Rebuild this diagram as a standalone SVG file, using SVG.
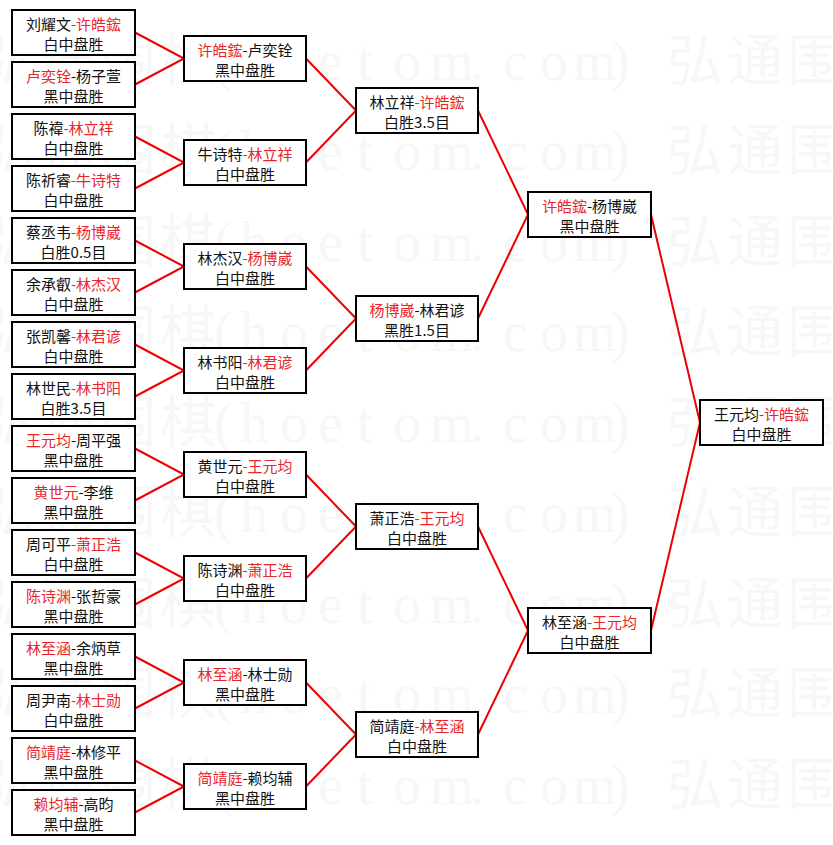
<svg xmlns="http://www.w3.org/2000/svg" width="833" height="845" viewBox="0 0 833 845">
<style>
.box{fill:#fff;stroke:#000;stroke-width:2}
.t{font-family:"Noto Sans CJK SC","Noto Sans",sans-serif;font-size:15px;fill:#111;text-anchor:middle}
.r{fill:#e8262b}
.c{stroke:#e00;stroke-width:2;fill:none}
.wm{font-family:"Liberation Serif","Noto Sans CJK SC",serif;font-size:56px;fill:#f7f7f7}
</style>
<defs>
<text id="wmrow" class="wm" x="-20 40 100 160 214 240 280 318 357 393 430 470 503 540 573 611 667 727 787" y="0">弘通围棋(hoetom.com)弘通围</text>
</defs>
<rect x="0" y="0" width="833" height="845" fill="#fff"/>
<g id="watermark">
<use href="#wmrow" y="80"/>
<use href="#wmrow" y="170"/>
<use href="#wmrow" y="261"/>
<use href="#wmrow" y="351"/>
<use href="#wmrow" y="442"/>
<use href="#wmrow" y="532"/>
<use href="#wmrow" y="623"/>
<use href="#wmrow" y="713"/>
<use href="#wmrow" y="804"/>
</g>
<g id="connectors">
<path class="c" d="M135 32.5L184 58.5L135 84.5"/>
<path class="c" d="M135 136.5L184 162.5L135 188.5"/>
<path class="c" d="M135 240.5L184 266.5L135 292.5"/>
<path class="c" d="M135 344.5L184 370.5L135 396.5"/>
<path class="c" d="M135 448.5L184 474.5L135 500.5"/>
<path class="c" d="M135 552.5L184 578.5L135 604.5"/>
<path class="c" d="M135 656.5L184 682.5L135 708.5"/>
<path class="c" d="M135 760.5L184 786.5L135 812.5"/>
<path class="c" d="M306 58.5L356 110.5L306 162.5"/>
<path class="c" d="M306 266.5L356 318.5L306 370.5"/>
<path class="c" d="M306 474.5L356 526.5L306 578.5"/>
<path class="c" d="M306 682.5L356 734.5L306 786.5"/>
<path class="c" d="M478 110.5L528 214.5L478 318.5"/>
<path class="c" d="M478 526.5L528 630.5L478 734.5"/>
<path class="c" d="M651 214.5L700 422.5L651 630.5"/>
</g>
<g id="r1-1"><rect class="box" x="12" y="10" width="123" height="45"/><text class="t" x="73.5" y="30">刘耀文<tspan class="r">-许皓鋐</tspan></text><text class="t" x="73.5" y="50">白中盘胜</text></g>
<g id="r1-2"><rect class="box" x="12" y="62" width="123" height="45"/><text class="t" x="73.5" y="82"><tspan class="r">卢奕铨</tspan>-杨子萱</text><text class="t" x="73.5" y="102">黑中盘胜</text></g>
<g id="r1-3"><rect class="box" x="12" y="114" width="123" height="45"/><text class="t" x="73.5" y="134">陈禕<tspan class="r">-林立祥</tspan></text><text class="t" x="73.5" y="154">白中盘胜</text></g>
<g id="r1-4"><rect class="box" x="12" y="166" width="123" height="45"/><text class="t" x="73.5" y="186">陈祈睿<tspan class="r">-牛诗特</tspan></text><text class="t" x="73.5" y="206">白中盘胜</text></g>
<g id="r1-5"><rect class="box" x="12" y="218" width="123" height="45"/><text class="t" x="73.5" y="238">蔡丞韦<tspan class="r">-杨博崴</tspan></text><text class="t" x="73.5" y="258">白胜0.5目</text></g>
<g id="r1-6"><rect class="box" x="12" y="270" width="123" height="45"/><text class="t" x="73.5" y="290">余承叡<tspan class="r">-林杰汉</tspan></text><text class="t" x="73.5" y="310">白中盘胜</text></g>
<g id="r1-7"><rect class="box" x="12" y="322" width="123" height="45"/><text class="t" x="73.5" y="342">张凯馨<tspan class="r">-林君谚</tspan></text><text class="t" x="73.5" y="362">白中盘胜</text></g>
<g id="r1-8"><rect class="box" x="12" y="374" width="123" height="45"/><text class="t" x="73.5" y="394">林世民<tspan class="r">-林书阳</tspan></text><text class="t" x="73.5" y="414">白胜3.5目</text></g>
<g id="r1-9"><rect class="box" x="12" y="426" width="123" height="45"/><text class="t" x="73.5" y="446"><tspan class="r">王元均</tspan>-周平强</text><text class="t" x="73.5" y="466">黑中盘胜</text></g>
<g id="r1-10"><rect class="box" x="12" y="478" width="123" height="45"/><text class="t" x="73.5" y="498"><tspan class="r">黄世元</tspan>-李维</text><text class="t" x="73.5" y="518">黑中盘胜</text></g>
<g id="r1-11"><rect class="box" x="12" y="530" width="123" height="45"/><text class="t" x="73.5" y="550">周可平<tspan class="r">-萧正浩</tspan></text><text class="t" x="73.5" y="570">白中盘胜</text></g>
<g id="r1-12"><rect class="box" x="12" y="582" width="123" height="45"/><text class="t" x="73.5" y="602"><tspan class="r">陈诗渊</tspan>-张哲豪</text><text class="t" x="73.5" y="622">黑中盘胜</text></g>
<g id="r1-13"><rect class="box" x="12" y="634" width="123" height="45"/><text class="t" x="73.5" y="654"><tspan class="r">林至涵</tspan>-余炳草</text><text class="t" x="73.5" y="674">黑中盘胜</text></g>
<g id="r1-14"><rect class="box" x="12" y="686" width="123" height="45"/><text class="t" x="73.5" y="706">周尹南<tspan class="r">-林士勋</tspan></text><text class="t" x="73.5" y="726">白中盘胜</text></g>
<g id="r1-15"><rect class="box" x="12" y="738" width="123" height="45"/><text class="t" x="73.5" y="758"><tspan class="r">简靖庭</tspan>-林修平</text><text class="t" x="73.5" y="778">黑中盘胜</text></g>
<g id="r1-16"><rect class="box" x="12" y="790" width="123" height="45"/><text class="t" x="73.5" y="810"><tspan class="r">赖均辅</tspan>-高昀</text><text class="t" x="73.5" y="830">黑中盘胜</text></g>
<g id="r2-1"><rect class="box" x="184" y="36" width="122" height="45"/><text class="t" x="245" y="56"><tspan class="r">许皓鋐</tspan>-卢奕铨</text><text class="t" x="245" y="76">黑中盘胜</text></g>
<g id="r2-2"><rect class="box" x="184" y="140" width="122" height="45"/><text class="t" x="245" y="160">牛诗特<tspan class="r">-林立祥</tspan></text><text class="t" x="245" y="180">白中盘胜</text></g>
<g id="r2-3"><rect class="box" x="184" y="244" width="122" height="45"/><text class="t" x="245" y="264">林杰汉<tspan class="r">-杨博崴</tspan></text><text class="t" x="245" y="284">白中盘胜</text></g>
<g id="r2-4"><rect class="box" x="184" y="348" width="122" height="45"/><text class="t" x="245" y="368">林书阳<tspan class="r">-林君谚</tspan></text><text class="t" x="245" y="388">白中盘胜</text></g>
<g id="r2-5"><rect class="box" x="184" y="452" width="122" height="45"/><text class="t" x="245" y="472">黄世元<tspan class="r">-王元均</tspan></text><text class="t" x="245" y="492">白中盘胜</text></g>
<g id="r2-6"><rect class="box" x="184" y="556" width="122" height="45"/><text class="t" x="245" y="576">陈诗渊<tspan class="r">-萧正浩</tspan></text><text class="t" x="245" y="596">白中盘胜</text></g>
<g id="r2-7"><rect class="box" x="184" y="660" width="122" height="45"/><text class="t" x="245" y="680"><tspan class="r">林至涵</tspan>-林士勋</text><text class="t" x="245" y="700">黑中盘胜</text></g>
<g id="r2-8"><rect class="box" x="184" y="764" width="122" height="45"/><text class="t" x="245" y="784"><tspan class="r">简靖庭</tspan>-赖均辅</text><text class="t" x="245" y="804">黑中盘胜</text></g>
<g id="r3-1"><rect class="box" x="356" y="88" width="122" height="45"/><text class="t" x="417" y="108">林立祥<tspan class="r">-许皓鋐</tspan></text><text class="t" x="417" y="128">白胜3.5目</text></g>
<g id="r3-2"><rect class="box" x="356" y="296" width="122" height="45"/><text class="t" x="417" y="316"><tspan class="r">杨博崴</tspan>-林君谚</text><text class="t" x="417" y="336">黑胜1.5目</text></g>
<g id="r3-3"><rect class="box" x="356" y="504" width="122" height="45"/><text class="t" x="417" y="524">萧正浩<tspan class="r">-王元均</tspan></text><text class="t" x="417" y="544">白中盘胜</text></g>
<g id="r3-4"><rect class="box" x="356" y="712" width="122" height="45"/><text class="t" x="417" y="732">简靖庭<tspan class="r">-林至涵</tspan></text><text class="t" x="417" y="752">白中盘胜</text></g>
<g id="r4-1"><rect class="box" x="528" y="192" width="123" height="45"/><text class="t" x="589.5" y="212"><tspan class="r">许皓鋐</tspan>-杨博崴</text><text class="t" x="589.5" y="232">黑中盘胜</text></g>
<g id="r4-2"><rect class="box" x="528" y="608" width="123" height="45"/><text class="t" x="589.5" y="628">林至涵<tspan class="r">-王元均</tspan></text><text class="t" x="589.5" y="648">白中盘胜</text></g>
<g id="final"><rect class="box" x="700" y="400" width="123" height="45"/><text class="t" x="761.5" y="420">王元均<tspan class="r">-许皓鋐</tspan></text><text class="t" x="761.5" y="440">白中盘胜</text></g>
</svg>
